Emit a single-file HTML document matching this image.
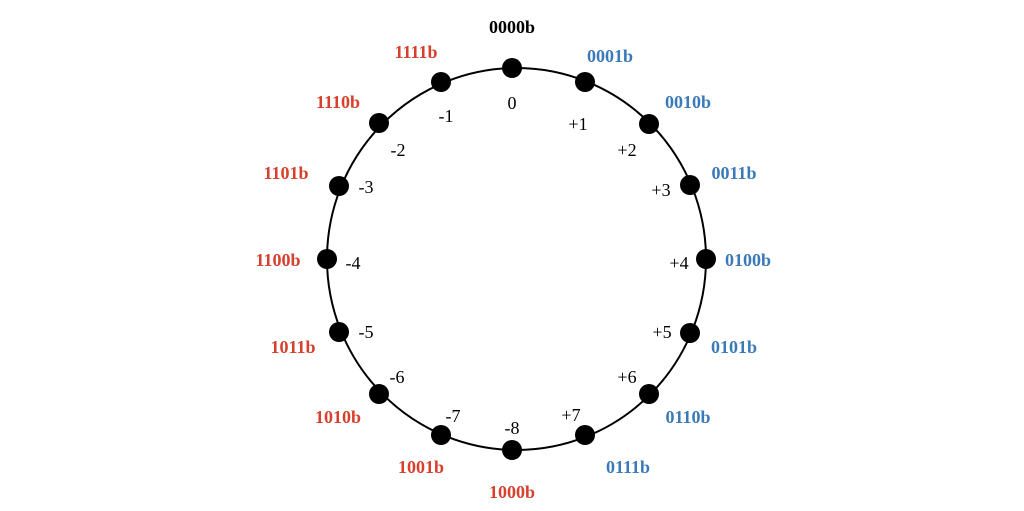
<!DOCTYPE html>
<html><head><meta charset="utf-8"><style>
html,body{margin:0;padding:0;background:#fff;}
svg{display:block;}
text{font-family:"Liberation Serif",serif;}
.b{font-weight:bold;font-size:18px;}
.r{fill:#d6402c;}
.u{fill:#3a7ab8;}
.n{font-size:18px;fill:#000;}
</style></head><body>
<svg width="1024" height="511" viewBox="0 0 1024 511">
<ellipse cx="516.5" cy="259" rx="189.5" ry="191" fill="none" stroke="#000" stroke-width="2"/>
<g fill="#000">
<circle cx="512" cy="68" r="10"/><circle cx="585" cy="82" r="10"/><circle cx="649" cy="124" r="10"/><circle cx="690" cy="185" r="10"/>
<circle cx="706" cy="259" r="10"/><circle cx="690" cy="333" r="10"/><circle cx="649" cy="394" r="10"/><circle cx="585" cy="435" r="10"/>
<circle cx="512" cy="450" r="10"/><circle cx="441" cy="435" r="10"/><circle cx="379" cy="394" r="10"/><circle cx="339" cy="332" r="10"/>
<circle cx="327" cy="259" r="10"/><circle cx="339" cy="186" r="10"/><circle cx="379" cy="123" r="10"/><circle cx="441" cy="82" r="10"/>
</g>
<g class="b" text-anchor="middle" dominant-baseline="central">
<text x="512" y="27">0000b</text>
<text class="u" x="610" y="56">0001b</text>
<text class="u" x="688" y="102">0010b</text>
<text class="u" x="734" y="173">0011b</text>
<text class="u" x="748" y="260">0100b</text>
<text class="u" x="734" y="347">0101b</text>
<text class="u" x="688" y="417">0110b</text>
<text class="u" x="628" y="467">0111b</text>
<text class="r" x="512" y="492">1000b</text>
<text class="r" x="421" y="467">1001b</text>
<text class="r" x="338" y="417">1010b</text>
<text class="r" x="293" y="347">1011b</text>
<text class="r" x="278" y="260">1100b</text>
<text class="r" x="286" y="173">1101b</text>
<text class="r" x="338" y="102">1110b</text>
<text class="r" x="416" y="52">1111b</text>
</g>
<g class="n" text-anchor="middle" dominant-baseline="central">
<text x="512" y="103">0</text><text x="578" y="124">+1</text><text x="627" y="150">+2</text><text x="661" y="190">+3</text>
<text x="679" y="263">+4</text><text x="662" y="332">+5</text><text x="627" y="377">+6</text><text x="571" y="415">+7</text>
<text x="512" y="428">-8</text><text x="453" y="416">-7</text><text x="397" y="377">-6</text><text x="366" y="332">-5</text>
<text x="353" y="263">-4</text><text x="366" y="187">-3</text><text x="398" y="150">-2</text><text x="446" y="116">-1</text>
</g>
</svg>
</body></html>
